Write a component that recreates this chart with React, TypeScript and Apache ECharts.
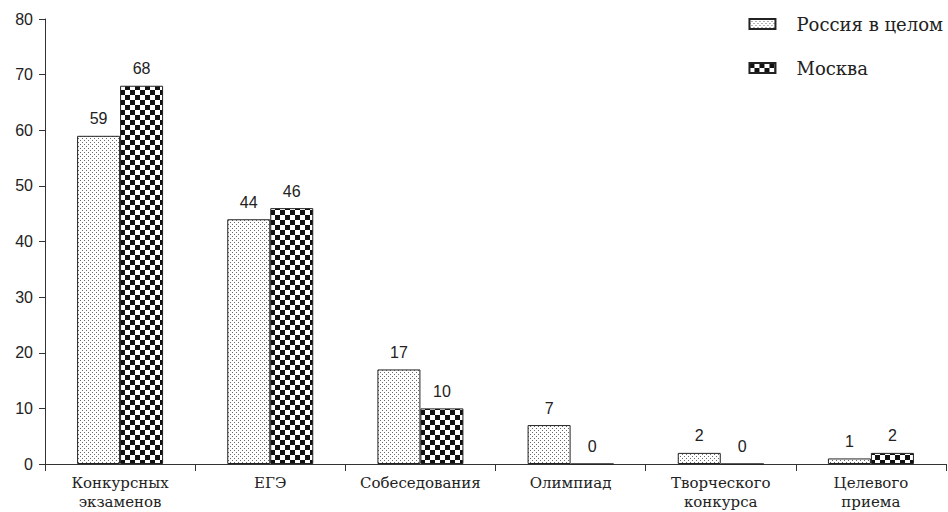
import React, { useEffect, useRef } from "react";
import * as echarts from "echarts";

const categories = [
  "Конкурсных\nэкзаменов",
  "ЕГЭ",
  "Собеседования",
  "Олимпиад",
  "Творческого\nконкурса",
  "Целевого\nприема",
];
const seriesNames = ["Россия в целом", "Москва"];
const russia = [59, 44, 17, 7, 2, 1];
const moscow = [68, 46, 10, 0, 0, 2];
const yTicks = [0, 10, 20, 30, 40, 50, 60, 70, 80];

const SERIF = "DejaVu Serif";
const SANS = "Liberation Sans";

function dotPattern(): HTMLCanvasElement {
  const c = document.createElement("canvas");
  c.width = 4;
  c.height = 4;
  const ctx = c.getContext("2d")!;
  ctx.fillStyle = "#ffffff";
  ctx.fillRect(0, 0, 4, 4);
  ctx.fillStyle = "#6a6a6a";
  ctx.fillRect(0, 0, 1, 1);
  ctx.fillRect(2, 2, 1, 1);
  return c;
}

function checkerPattern(): HTMLCanvasElement {
  const c = document.createElement("canvas");
  const s = 5;
  c.width = s * 2;
  c.height = s * 2;
  const ctx = c.getContext("2d")!;
  ctx.fillStyle = "#ffffff";
  ctx.fillRect(0, 0, s * 2, s * 2);
  ctx.fillStyle = "#111111";
  ctx.fillRect(0, 0, s, s);
  ctx.fillRect(s, s, s, s);
  return c;
}

export default function App() {
  const ref = useRef<HTMLDivElement>(null);
  useEffect(() => {
    if (!ref.current) return;
    const chart = echarts.init(ref.current, undefined, { renderer: "svg" });
    const dots = { image: dotPattern(), repeat: "repeat" } as any;
    const checks = { image: checkerPattern(), repeat: "repeat" } as any;
    const labelStyle = {
      show: true,
      position: "top" as const,
      distance: 9,
      fontFamily: SANS,
      fontSize: 16,
      color: "#222",
    };
    chart.setOption({
      animation: false,
      backgroundColor: "#ffffff",
      textStyle: { fontFamily: SERIF },
      grid: { left: 45, right: 2, top: 19, bottom: 48, containLabel: false },
      legend: {
        orient: "vertical",
        right: 0,
        top: 10,
        icon: "rect",
        itemWidth: 26,
        itemHeight: 10,
        itemGap: 26,
        textStyle: {
          fontFamily: SERIF,
          fontSize: 18,
          color: "#222",
          padding: [0, 0, 0, 16],
        },
        data: seriesNames,
      },
      xAxis: {
        type: "category",
        data: categories,
        axisLine: { lineStyle: { color: "#333", width: 1 } },
        axisTick: { show: true, length: 7, alignWithLabel: false, lineStyle: { color: "#333" } },
        axisLabel: {
          margin: 9,
          interval: 0,
          fontFamily: SERIF,
          fontSize: 15,
          lineHeight: 19,
          color: "#222",
        },
      },
      yAxis: {
        type: "value",
        min: yTicks[0],
        max: yTicks[yTicks.length - 1],
        interval: 10,
        splitLine: { show: false },
        axisLine: { show: true, lineStyle: { color: "#333", width: 1 } },
        axisTick: { show: true, length: 6, lineStyle: { color: "#333" } },
        axisLabel: {
          margin: 12,
          fontFamily: SANS,
          fontSize: 16,
          color: "#222",
        },
      },
      series: [
        {
          name: seriesNames[0],
          type: "bar",
          data: russia,
          barWidth: 43,
          barGap: "0%",
          itemStyle: { color: dots, borderColor: "#222", borderWidth: 1 },
          label: labelStyle,
        },
        {
          name: seriesNames[1],
          type: "bar",
          data: moscow,
          barWidth: 43,
          barGap: "0%",
          itemStyle: { color: checks, borderColor: "#222", borderWidth: 1 },
          label: labelStyle,
        },
      ],
    });
    return () => chart.dispose();
  }, []);
  return <div ref={ref} style={{ width: 948, height: 512, position: "absolute", left: 0, top: 0 }} />;
}
